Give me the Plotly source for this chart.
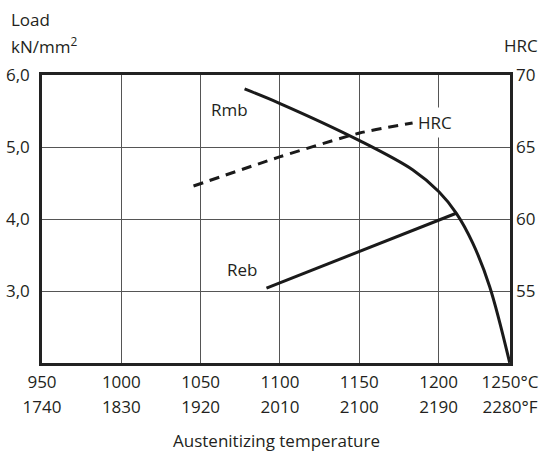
import plotly.graph_objects as go

# ---- data ----
temp_ticks_c = [950, 1000, 1050, 1100, 1150, 1200, 1245]
temp_labels_c = ["950", "1000", "1050", "1100", "1150", "1200", "1250°C"]
temp_labels_f = ["1740", "1830", "1920", "2010", "2100", "2190", "2280°F"]

load_ticks = [3, 4, 5, 6]
load_tick_labels = ["3,0", "4,0", "5,0", "6,0"]
hrc_ticks = [55, 60, 65, 70]
hrc_tick_labels = ["55", "60", "65", "70"]

rmb_temp = [1077.7, 1099.7, 1150.2, 1183.8, 1200.2, 1211.2, 1221.6, 1232.2, 1244.8]
rmb_load = [5.806, 5.607, 5.088, 4.681, 4.379, 4.079, 3.662, 3.060, 2.004]

reb_temp = [1091.5, 1211.1]
reb_load = [3.04, 4.08]

hrc_temp = [1045.5, 1099.7, 1150.2, 1183.6]
hrc_val = [62.29, 64.31, 65.97, 66.67]

FONT = "Open Sans, Noto Sans, sans-serif"
TXT = "#231f20"
LINE = "#1a1a1a"
X_RANGE = [950, 1245]

fig = go.Figure()
fig.add_trace(go.Scatter(x=rmb_temp, y=rmb_load, mode="lines",
                         line=dict(color=LINE, width=3, shape="spline", smoothing=1.0),
                         showlegend=False, hoverinfo="skip"))
fig.add_trace(go.Scatter(x=reb_temp, y=reb_load, mode="lines",
                         line=dict(color=LINE, width=3),
                         showlegend=False, hoverinfo="skip"))
fig.add_trace(go.Scatter(x=hrc_temp, y=hrc_val, mode="lines", xaxis="x2", yaxis="y2",
                         line=dict(color=LINE, width=3, dash="10px,7px",
                                   shape="spline", smoothing=0.6),
                         showlegend=False, hoverinfo="skip"))

common = dict(ticks="", zeroline=False, fixedrange=True, automargin=False,
              tickfont=dict(size=17, color=TXT))

fig.update_layout(
    width=541, height=453,
    margin=dict(l=42, r=31, t=75, b=90),
    paper_bgcolor="white", plot_bgcolor="white",
    font=dict(family=FONT, size=17, color=TXT),
    xaxis=dict(range=X_RANGE, tickvals=temp_ticks_c, ticktext=temp_labels_c,
               showgrid=True, gridcolor="#555555", gridwidth=1,
               showline=True, linecolor="#222222", linewidth=2.5, mirror=True,
               ticklabelstandoff=2, **common),
    xaxis2=dict(range=X_RANGE, tickvals=temp_ticks_c, ticktext=temp_labels_f,
                overlaying="x", side="bottom", anchor="y2", showgrid=False,
                showline=False, ticklabelstandoff=32, **common),
    yaxis=dict(range=[2, 6], tickvals=load_ticks, ticktext=load_tick_labels,
               showgrid=True, gridcolor="#555555", gridwidth=1,
               showline=True, linecolor="#222222", linewidth=2.5, mirror=True,
               ticklabelstandoff=6, **common),
    yaxis2=dict(range=[50, 70], tickvals=hrc_ticks, ticktext=hrc_tick_labels,
                overlaying="y", side="right", anchor="x", showgrid=False, showline=False,
                ticklabelstandoff=5, **common),
    annotations=[
        dict(text="Load", xref="paper", yref="paper", x=-0.07, y=1.0, yshift=56,
             xanchor="left", yanchor="middle", showarrow=False, font=dict(size=17)),
        dict(text="kN/mm<sup>2</sup>", xref="paper", yref="paper", x=-0.07, y=1.0, yshift=30,
             xanchor="left", yanchor="middle", showarrow=False, font=dict(size=17)),
        dict(text="HRC", xref="paper", yref="paper", x=1.0, xshift=30, y=1.0, yshift=30,
             xanchor="right", yanchor="middle", showarrow=False, font=dict(size=17)),
        dict(text="Austenitizing temperature", xref="paper", yref="paper", x=0.5, y=0,
             yshift=-77, xanchor="center", yanchor="middle", showarrow=False,
             font=dict(size=17)),
        dict(text="Rmb", x=1067.9, y=5.52, xref="x", yref="y", showarrow=False,
             xanchor="center", yanchor="middle", font=dict(size=17)),
        dict(text="Reb", x=1075.8, y=3.30, xref="x", yref="y", showarrow=False,
             xanchor="center", yanchor="middle", font=dict(size=17)),
        dict(text="HRC", x=1197.8, y=66.70, xref="x", yref="y2", showarrow=False,
             xanchor="center", yanchor="middle", bgcolor="white", borderpad=3,
             font=dict(size=17)),
    ],
)

fig.write_html("out.html", config={"displayModeBar": False},
               post_script="document.body.style.margin='0';")
